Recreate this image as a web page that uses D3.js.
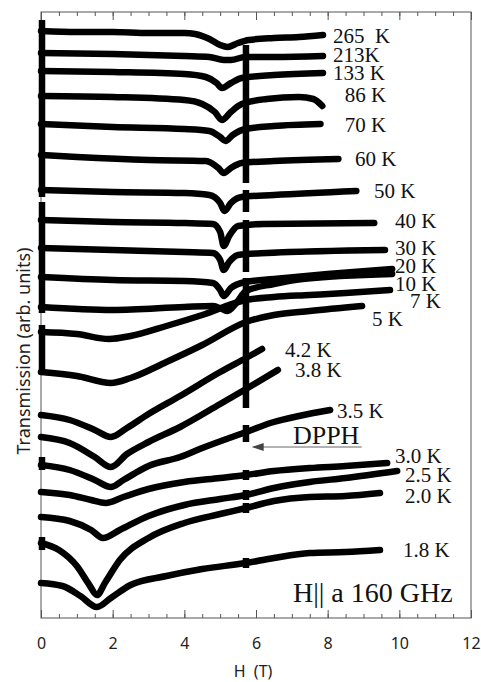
<!DOCTYPE html>
<head>
  <meta charset="utf-8">
  <script src="https://d3js.org/d3.v7.min.js"></script>
  <style>
    body { margin:0; background:#fff; }
    text { white-space: pre; }
  </style>
</head>
<body>
  <svg id="esr" width="481" height="682"></svg>
  <script>
    // field (T) and transmission (arb. units, offset per temperature)
    const temps = ["265  K","213K","133 K","86 K","70 K","60 K","50 K","40 K","30 K","20 K","10 K","7 K","5 K",
                   "4.2 K","3.8 K","3.5 K","3.0 K","2.5 K","2.0 K","1.8 K"];

    const fields = [
      [0,1,2,3,4,4.3,4.7,5.0,5.2,5.5,5.8,6.5,7.2,7.87],
      [0,2,4,4.7,5.1,5.3,5.7,6.5,7.87],
      [0,2,4,4.6,4.9,5.05,5.3,5.6,6.5,7.87],
      [0,2,4,4.5,4.85,5.05,5.3,5.6,6.3,7.2,7.6,7.85],
      [0,2,4,4.7,5.0,5.15,5.35,5.7,6.5,7.8],
      [0,1,3,4.6,4.95,5.1,5.3,5.6,6.5,8.3],
      [0,2,4,4.7,5.0,5.12,5.3,5.6,6.5,8.8],
      [0,2,4,4.8,5.0,5.1,5.25,5.5,6.2,9.3],
      [0,2,4,4.8,5.0,5.1,5.25,5.5,6.3,9.6],
      [0,2,4,4.8,5.0,5.1,5.3,5.7,6.5,8,9.8],
      [0,2,4,4.8,5.05,5.2,5.45,5.72,6.5,7.3,9.8],
      [0,1,1.9,2.5,3.5,4.5,5.72,6.5,7.5,8.5,9.74],
      [0,1,1.95,2.5,3.5,4.5,5.72,6.5,7.5,8.96],
      [0,0.8,1.5,1.95,2.4,3,3.88,5,5.72,6.17],
      [0,0.8,1.5,1.95,2.4,3,3.88,5,5.72,6.61],
      [0,0.8,1.5,1.95,2.3,3,3.88,4.5,5.72,6.5,7.2,8.07],
      [0,0.8,1.4,1.8,2.3,3,4,5,5.72,6.5,7.5,8.5,9.66],
      [0,0.8,1.4,1.73,2.2,3,4,5,5.72,6.5,7.5,8.5,9.94],
      [0,0.5,1.0,1.35,1.56,1.8,2.2,3,4,5,5.72,6.5,7.5,8.5,9.46],
      [0,0.6,1.1,1.56,1.95,2.5,3.5,4.5,5.72,6.5,7.5,8.5,9.46]
    ];

    const signals = [
      [587,586,586,585,585,584,579,573,571,575,578,580,581,583],
      [565,564,562,561,558,558,561,561,562],
      [547,546,544,541,535,530,535,540,543,545],
      [522,521,518,514,506,498,506,514,519,521,519,512],
      [494,491,489,487,481,477,483,489,492,494],
      [463,461,458,457,450,445,450,455,457,459],
      [428,426,425,423,415,407,415,421,423,427],
      [398,396,395,394,386,372,382,392,394,395],
      [370,368,366,365,358,348,356,363,365,368],
      [341,338,337,335,328,322,330,336,339,344,349],
      [311,308,311,312,309,307,315,327,334,339,344],
      [286,284,279,282,292,303,318,321,323,325,328],
      [246,242,235,240,256,273,296,303,307,312],
      [203,198,188,181,190,204,222,246,260,269],
      [181,175,161,151,164,176,191,214,229,248],
      [153,148,138,131,138,152,161,170,186,196,202,208],
      [126,123,118,115,121,129,136,140,143,147,150,152,155],
      [101,97,88,80,88,102,113,119,123,130,136,140,147],
      [75,68,52,33,23,36,58,80,95,104,110,117,121,122,125],
      [35,32,22,11,20,33,42,49,55,60,65,66,68]
    ];

    // where each temperature label sits (H, transmission)
    const labelH = [8.15,8.15,8.15,8.48,8.48,8.76,9.29,9.88,9.88,9.88,9.88,10.3,9.24,6.81,7.09,8.26,9.88,10.16,10.16,10.1];
    const labelV = [575,556,538,516,486,452,420,390,363,345,327,310,292,261,241,200,155,136,115,61];

    // DPPH reference mark at 5.72 T, and the zero-field bars
    const dpphField = 5.72;
    const dpphMarks = [[573,435],[428,406],[398,346],[340,210],[193,176],[148,138],[128,118],[115,105],[60,50]];
    const zeroBars = [[598,421],[416,305],[293,245],[161,148],[81,68]];

    const xTicks = [0,2,4,6,8,10,12];

    const svg = d3.select("#esr");
    const x = d3.scaleLinear().domain([0, 12]).range([41, 471]);
    const y = d3.scaleLinear().domain([0, 606]).range([618, 12]);

    const minor = d3.range(0, 12.01, 0.5);
    const axisColor = "#555";

    // frame
    svg.append("rect")
      .attr("x", x(0)).attr("y", y(606))
      .attr("width", x(12) - x(0)).attr("height", y(0) - y(606))
      .attr("fill", "none").attr("stroke", axisColor).attr("stroke-width", 1);

    // bottom ticks (inward) + labels
    const gb = svg.append("g").attr("transform", `translate(0,${y(0)})`);
    gb.call(d3.axisBottom(x).tickValues(minor).tickSize(-4).tickSizeOuter(0).tickFormat(""));
    gb.append("g").call(d3.axisBottom(x).tickValues(xTicks).tickSize(-8).tickSizeOuter(0).tickPadding(20).tickFormat(d3.format("d")));
    gb.selectAll("path.domain").remove();
    gb.selectAll("line").attr("stroke", axisColor);
    gb.selectAll("text").attr("font-family", "'Noto Sans', sans-serif").attr("font-size", 16).attr("fill", "#222");

    // top ticks (inward)
    const gt = svg.append("g").attr("transform", `translate(0,${y(606)})`);
    gt.call(d3.axisBottom(x).tickValues(minor).tickSize(4).tickSizeOuter(0).tickFormat(""));
    gt.append("g").call(d3.axisBottom(x).tickValues(xTicks).tickSize(8).tickSizeOuter(0).tickFormat(""));
    gt.selectAll("path.domain").remove();
    gt.selectAll("line").attr("stroke", axisColor);

    // axis titles
    svg.append("text")
      .attr("x", 253).attr("y", 677)
      .attr("text-anchor", "middle")
      .attr("font-family", "'Noto Sans', sans-serif").attr("font-size", 16).attr("fill", "#222")
      .text("H  (T)");

    svg.append("text")
      .attr("transform", "translate(30,351) rotate(-90)")
      .attr("text-anchor", "middle")
      .attr("font-family", "'Noto Sans', sans-serif").attr("font-size", 18).attr("fill", "#222")
      .text("Transmission (arb. units)");

    // zero field bars
    svg.append("g").selectAll("line")
      .data(zeroBars).join("line")
      .attr("x1", x(0) + 1).attr("x2", x(0) + 1)
      .attr("y1", d => y(d[0])).attr("y2", d => y(d[1]))
      .attr("stroke", "#000").attr("stroke-width", 6.5);

    // DPPH marks
    svg.append("g").selectAll("line")
      .data(dpphMarks).join("line")
      .attr("x1", x(dpphField)).attr("x2", x(dpphField))
      .attr("y1", d => y(d[0])).attr("y2", d => y(d[1]))
      .attr("stroke", "#000").attr("stroke-width", 6.5);

    // spectra
    const line = d3.line()
      .x(d => x(d[0]))
      .y(d => y(d[1]))
      .curve(d3.curveMonotoneX);

    const series = fields.map((f, i) => f.map((h, j) => [h, signals[i][j]]));

    svg.append("g").selectAll("path")
      .data(series).join("path")
      .attr("d", line)
      .attr("fill", "none")
      .attr("stroke", "#000")
      .attr("stroke-width", 6.5)
      .attr("stroke-linecap", "round")
      .attr("stroke-linejoin", "round");

    // temperature labels
    svg.append("g").selectAll("text")
      .data(temps).join("text")
      .attr("x", (d, i) => x(labelH[i]))
      .attr("y", (d, i) => y(labelV[i]))
      .attr("font-family", "'Liberation Serif', 'Times New Roman', serif")
      .attr("font-size", 21)
      .attr("fill", "#111")
      .text(d => d);

    // DPPH annotation with arrow
    const arrowV = 171;
    svg.append("line")
      .attr("x1", x(8.95)).attr("x2", x(5.95))
      .attr("y1", y(arrowV)).attr("y2", y(arrowV))
      .attr("stroke", "#666").attr("stroke-width", 1);
    svg.append("path")
      .attr("d", `M${x(5.88)},${y(arrowV)} l12,-4 l0,8 z`)
      .attr("fill", "#444");
    svg.append("text")
      .attr("x", x(7.03)).attr("y", y(174))
      .attr("font-family", "'Liberation Serif', 'Times New Roman', serif")
      .attr("font-size", 26).attr("fill", "#111")
      .text("DPPH");

    svg.append("text")
      .attr("x", x(7.03)).attr("y", y(16))
      .attr("font-family", "'Liberation Serif', 'Times New Roman', serif")
      .attr("font-size", 28).attr("fill", "#111")
      .text("H|| a 160 GHz");
  </script>
</body>
